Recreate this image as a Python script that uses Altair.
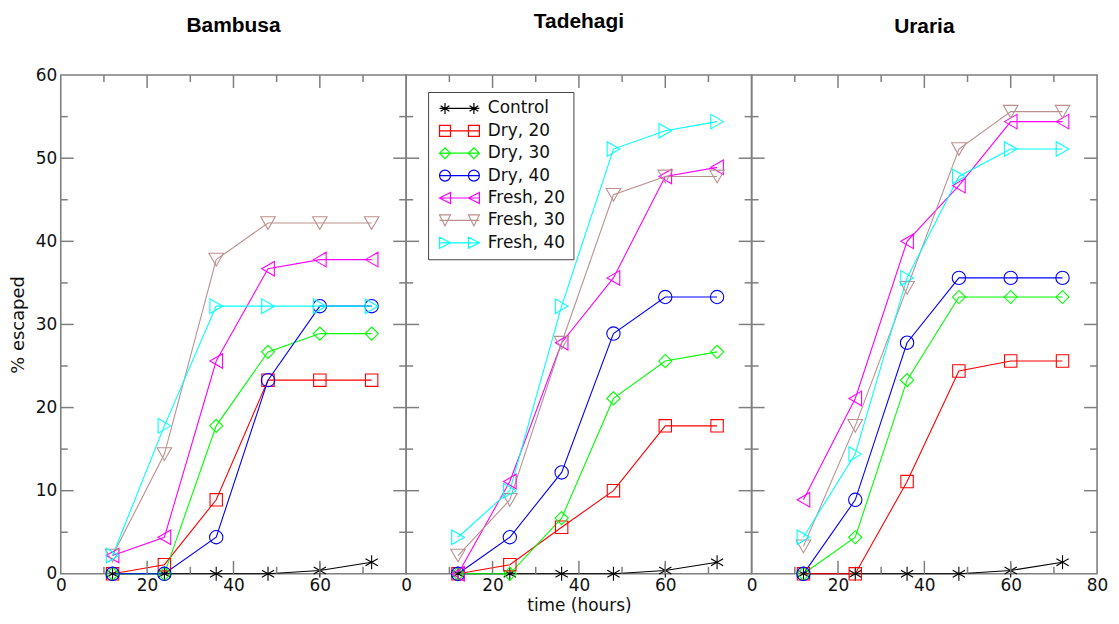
import altair as alt
import pandas as pd

hours = [12, 24, 36, 48, 60, 72]
series_names = ["Control", "Dry, 20", "Dry, 30", "Dry, 40", "Fresh, 20", "Fresh, 30", "Fresh, 40"]
series_colors = ["#000000", "#ff0000", "#00ff00", "#0000ff", "#ff00ff", "#bc8f8f", "#00ffff"]

bambusa_values = {
    "Control":   [0.0, 0.0, 0.0, 0.0, 0.4, 1.4],
    "Dry, 20":   [0.0, 1.1, 8.9, 23.3, 23.3, 23.3],
    "Dry, 30":   [0.0, 0.0, 17.8, 26.7, 28.9, 28.9],
    "Dry, 40":   [0.0, 0.0, 4.4, 23.3, 32.2, 32.2],
    "Fresh, 20": [2.2, 4.4, 25.6, 36.7, 37.8, 37.8],
    "Fresh, 30": [2.2, 14.4, 37.8, 42.2, 42.2, 42.2],
    "Fresh, 40": [2.2, 17.8, 32.2, 32.2, 32.2, 32.2],
}
tadehagi_values = {
    "Control":   [0.0, 0.0, 0.0, 0.0, 0.4, 1.4],
    "Dry, 20":   [0.0, 1.1, 5.6, 10.0, 17.8, 17.8],
    "Dry, 30":   [0.0, 0.0, 6.7, 21.1, 25.6, 26.7],
    "Dry, 40":   [0.0, 4.4, 12.2, 28.9, 33.3, 33.3],
    "Fresh, 20": [0.0, 11.1, 27.8, 35.6, 47.8, 48.9],
    "Fresh, 30": [2.2, 8.9, 27.8, 45.6, 47.8, 47.8],
    "Fresh, 40": [4.4, 10.0, 32.2, 51.1, 53.3, 54.4],
}
uraria_values = {
    "Control":   [0.0, 0.0, 0.0, 0.0, 0.4, 1.4],
    "Dry, 20":   [0.0, 0.0, 11.1, 24.4, 25.6, 25.6],
    "Dry, 30":   [0.0, 4.4, 23.3, 33.3, 33.3, 33.3],
    "Dry, 40":   [0.0, 8.9, 27.8, 35.6, 35.6, 35.6],
    "Fresh, 20": [8.9, 21.1, 40.0, 46.7, 54.4, 54.4],
    "Fresh, 30": [3.3, 17.8, 34.4, 51.1, 55.6, 55.6],
    "Fresh, 40": [4.4, 14.4, 35.6, 47.8, 51.1, 51.1],
}

panel_titles = ["Bambusa", "Tadehagi", "Uraria"]
y_labels = [0, 10, 20, 30, 40, 50, 60]
y_major_ticks = [10, 20, 30, 40, 50]
y_minor_ticks = [5, 15, 25, 35, 45, 55]
x_major_ticks = [20, 40, 60]
x_minor_ticks = [10, 30, 50, 70]

# ---- styling ----
W, H = 347, 501
FONT = "DejaVu Sans"
BORDER = "#7f7f7f"
ASTER = "M0,-1L0,1M-0.87,-0.5L0.87,0.5M-0.87,0.5L0.87,-0.5"
plot_shapes = [ASTER, "square", "diamond", "circle", "triangle-left", "triangle-down", "triangle-right"]
plot_sizes = [200, 155, 175, 180, 215, 215, 215]


def legend_path(kind):
    L, c, h = 3.33, 2.42, 0.92
    p = f"M{-L},0L{L},0"
    for cx in (-c, c):
        if kind == "aster":
            p += (f"M{cx},{-h}L{cx},{h}M{cx - 0.8 * h},{-0.5 * h}L{cx + 0.8 * h},{0.5 * h}"
                  f"M{cx - 0.8 * h},{0.5 * h}L{cx + 0.8 * h},{-0.5 * h}")
        elif kind == "square":
            p += f"M{cx - h},{-h}L{cx + h},{-h}L{cx + h},{h}L{cx - h},{h}Z"
        elif kind == "diamond":
            p += f"M{cx - h},0L{cx},{-h}L{cx + h},0L{cx},{h}Z"
        elif kind == "circle":
            p += f"M{cx - h},0A{h},{h} 0 1,0 {cx + h},0A{h},{h} 0 1,0 {cx - h},0Z"
        elif kind == "left":
            p += f"M{cx - h},0L{cx + h},{-h}L{cx + h},{h}Z"
        elif kind == "down":
            p += f"M{cx - h},{-h}L{cx + h},{-h}L{cx},{h}Z"
        elif kind == "right":
            p += f"M{cx - h},{-h}L{cx + h},0L{cx - h},{h}Z"
    return p


legend_shapes = [legend_path(k) for k in ["aster", "square", "diamond", "circle", "left", "down", "right"]]


def panel(values, title, x_labels, show_y, x_title, with_legend, title_offset):
    rows = [{"series": s, "hours": h, "pct": v}
            for s in series_names for h, v in zip(hours, values[s])]
    df = pd.DataFrame(rows)

    x_enc = alt.X(
        "hours:Q",
        scale=alt.Scale(domain=[0, 80], nice=False, zero=False),
        axis=alt.Axis(values=x_labels, ticks=False, domain=False, grid=False,
                      labelFont=FONT, labelFontSize=17, labelColor="#111",
                      labelPadding=4, labelFlush=False,
                      title=x_title if x_title else None,
                      titleFont=FONT, titleFontSize=17, titleFontWeight="normal",
                      titleColor="#111", titlePadding=17, titleBaseline="alphabetic"),
    )
    if show_y:
        y_axis = alt.Axis(values=y_labels, ticks=False, domain=False, grid=False,
                          labelFont=FONT, labelFontSize=17, labelColor="#111",
                          labelPadding=4, title="% escaped", titleFont=FONT,
                          titleFontSize=18, titleFontWeight="normal", titleColor="#111",
                          titlePadding=8)
    else:
        y_axis = None
    y_enc = alt.Y("pct:Q", scale=alt.Scale(domain=[0, 60], nice=False), axis=y_axis)
    stroke_enc = alt.Stroke("series:N", scale=alt.Scale(domain=series_names, range=series_colors),
                            legend=None)

    base = alt.Chart(df).encode(x=x_enc, y=y_enc, stroke=stroke_enc)
    layers = []
    for s in series_names:
        layers.append(base.transform_filter(alt.datum.series == s)
                      .mark_line(strokeWidth=1.1))
    for s, shp, sz in zip(series_names, plot_shapes, plot_sizes):
        layers.append(base.transform_filter(alt.datum.series == s)
                      .mark_point(shape=shp, size=sz, filled=False, strokeWidth=1.1, opacity=1))

    # inward ticks
    ymaj = pd.DataFrame({"pct": y_major_ticks})
    ymin = pd.DataFrame({"pct": y_minor_ticks})
    xmaj = pd.DataFrame({"hours": x_major_ticks})
    xmin = pd.DataFrame({"hours": x_minor_ticks})
    tick_style = dict(color=BORDER, strokeWidth=1.5)
    for d, ln in ((ymaj, 13), (ymin, 7)):
        layers.append(alt.Chart(d).mark_rule(**tick_style).encode(
            y=y_enc, x=alt.value(0), x2=alt.value(ln)))
        layers.append(alt.Chart(d).mark_rule(**tick_style).encode(
            y=y_enc, x=alt.value(W), x2=alt.value(W - ln)))
    for d, ln in ((xmaj, 13), (xmin, 7)):
        layers.append(alt.Chart(d).mark_rule(**tick_style).encode(
            x=x_enc, y=alt.value(H), y2=alt.value(H - ln)))
        layers.append(alt.Chart(d).mark_rule(**tick_style).encode(
            x=x_enc, y=alt.value(0), y2=alt.value(ln)))

    if with_legend:
        leg = alt.Legend(title=None, orient="none", legendX=369, legendY=17, padding=8,
                         strokeColor="#444", fillColor="white",
                         labelFont=FONT, labelFontSize=17, labelColor="#111",
                         symbolSize=144, symbolOffset=15, labelOffset=20,
                         symbolStrokeWidth=1.2, symbolOpacity=1, rowPadding=4.5,
                         labelLimit=200)
        layers.append(
            alt.Chart(df)
            .mark_point(filled=False, size=144, strokeWidth=1.2, opacity=0)
            .encode(x=x_enc, y=y_enc,
                    color=alt.Color("series:N",
                                    scale=alt.Scale(domain=series_names, range=series_colors),
                                    legend=leg),
                    shape=alt.Shape("series:N",
                                    scale=alt.Scale(domain=series_names, range=legend_shapes),
                                    legend=leg))
        )

    return alt.layer(*layers).properties(
        width=W, height=H,
        title=alt.TitleParams(title, font="Liberation Sans", fontSize=21, fontWeight="bold",
                              color="#000", anchor="middle", baseline="alphabetic",
                              offset=title_offset),
    )


p1 = panel(bambusa_values, panel_titles[0], [0, 20, 40, 60], True, None, False, 13)
p2 = panel(tadehagi_values, panel_titles[1], [0, 20, 40, 60], False, "time (hours)", True, 26)
p3 = panel(uraria_values, panel_titles[2], [0, 20, 40, 60, 80], False, None, False, 21)

chart = (
    alt.hconcat(p1, p2, p3, spacing=0, bounds="flush")
    .resolve_scale(color="shared", shape="shared", stroke="independent")
    .resolve_legend(color="shared", shape="shared")
    .properties(padding={"left": 0, "top": 0, "right": 2, "bottom": 0})
    .configure_view(stroke=BORDER, strokeWidth=1.6)
    .configure_concat(spacing=0)
)

chart.save("out.html", embed_options={"renderer": "svg", "actions": False})
